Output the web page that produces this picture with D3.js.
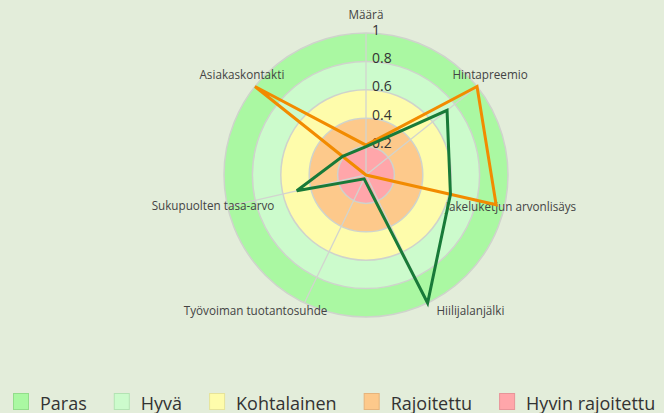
<!DOCTYPE html>
<html>
<head>
<meta charset="utf-8">
<script src="https://cdn.jsdelivr.net/npm/d3@7"></script>
<style>
  html, body { margin: 0; padding: 0; background: #e3edda; }
  svg { display: block; font-family: "Open Sans", "Noto Sans", sans-serif; }
</style>
</head>
<body>
<svg id="chart" width="664" height="413"></svg>
<script>
  // ===== data =====
  const axes = ["Määrä", "Hintapreemio", "Jakeluketjun arvonlisäys", "Hiilijalanjälki",
                "Työvoiman tuotantosuhde", "Sukupuolten tasa-arvo", "Asiakaskontakti"];
  const greenValues  = [0.20, 0.73, 0.61, 1.00, 0.03, 0.50, 0.21];
  const orangeValues = [0.21, 1.00, 0.94, 0.00, 0.00, 0.00, 1.00];
  const tickValues = [0.2, 0.4, 0.6, 0.8, 1];
  const bandNames  = ["Paras", "Hyvä", "Kohtalainen", "Rajoitettu", "Hyvin rajoitettu"];
  const bandTops   = [1, 0.8, 0.6, 0.4, 0.2];

  // ===== styles =====
  const bandColors = ["#aaf8a2", "#ccfbcc", "#fefcab", "#fdc98b", "#ffa6aa"];
  const bandStroke = ["#93dd8b", "#b3e3b3", "#e6e39a", "#e6b47c", "#e89499"];
  const seriesColors = ["#f28b00", "#187a38"];

  const svg = d3.select("#chart");
  const cx = 366, cy = 175, R = 142;
  const r = d3.scaleLinear().domain([0, 1]).range([0, R]);
  const ang = d3.scalePoint().domain(axes).range([0, 2 * Math.PI * (axes.length - 1) / axes.length]);
  const g = svg.append("g").attr("transform", `translate(${cx},${cy})`);

  // rings
  g.selectAll("circle.band").data(bandTops).join("circle")
    .attr("class", "band")
    .attr("r", d => r(d))
    .attr("fill", (d, i) => bandColors[i]);

  // grid circles
  g.selectAll("circle.grid").data(tickValues).join("circle")
    .attr("class", "grid")
    .attr("r", d => r(d))
    .attr("fill", "none")
    .attr("stroke", "#cfd3cc")
    .attr("stroke-width", 1.5);

  // spokes
  g.selectAll("line.spoke").data(axes).join("line")
    .attr("class", "spoke")
    .attr("x1", 0).attr("y1", 0)
    .attr("x2", d => r(1) * Math.sin(ang(d)))
    .attr("y2", d => -r(1) * Math.cos(ang(d)))
    .attr("stroke", "#d2d4cf")
    .attr("stroke-width", 1.3);

  // axis labels (nudged like the original layout)
  const shift = [[0, -1], [-1, -1], [-11, -5], [35, -9], [-41, -9], [3, -6], [1, -1]];
  g.selectAll("text.axlab").data(axes).join("text")
    .attr("class", "axlab")
    .attr("x", (d, i) => (R + 18) * Math.sin(ang(d)) + shift[i][0])
    .attr("y", (d, i) => -(R + 18) * Math.cos(ang(d)) + shift[i][1])
    .attr("text-anchor", "middle")
    .attr("dominant-baseline", "central")
    .attr("font-size", 11.7)
    .attr("fill", "#444")
    .text(d => d);

  // tick labels
  g.selectAll("text.tick").data(tickValues).join("text")
    .attr("class", "tick")
    .attr("x", 6)
    .attr("y", d => -r(d) - 4)
    .attr("dominant-baseline", "central")
    .attr("font-size", 14)
    .attr("fill", "#333")
    .text(d => d);

  // series
  const line = d3.lineRadial()
    .angle((d, i) => ang(axes[i]))
    .radius(d => r(d))
    .curve(d3.curveLinearClosed);
  [orangeValues, greenValues].forEach((vals, k) => {
    g.append("path")
      .attr("d", line(vals))
      .attr("fill", "none")
      .attr("stroke", seriesColors[k])
      .attr("stroke-width", 3)
      .attr("stroke-linejoin", "miter");
  });

  // legend
  const leg = svg.append("g").attr("transform", "translate(13,393)");
  let x = 0;
  bandNames.forEach((name, i) => {
    leg.append("rect")
      .attr("x", x + 0.5).attr("y", 0.5)
      .attr("width", 15).attr("height", 16)
      .attr("fill", bandColors[i])
      .attr("stroke", bandStroke[i]);
    const t = leg.append("text")
      .attr("x", x + 27).attr("y", 10)
      .attr("dominant-baseline", "central")
      .attr("font-size", 18)
      .attr("fill", "#333")
      .text(name);
    x += 27 + t.node().getComputedTextLength() + 27;
  });
</script>
</body>
</html>
